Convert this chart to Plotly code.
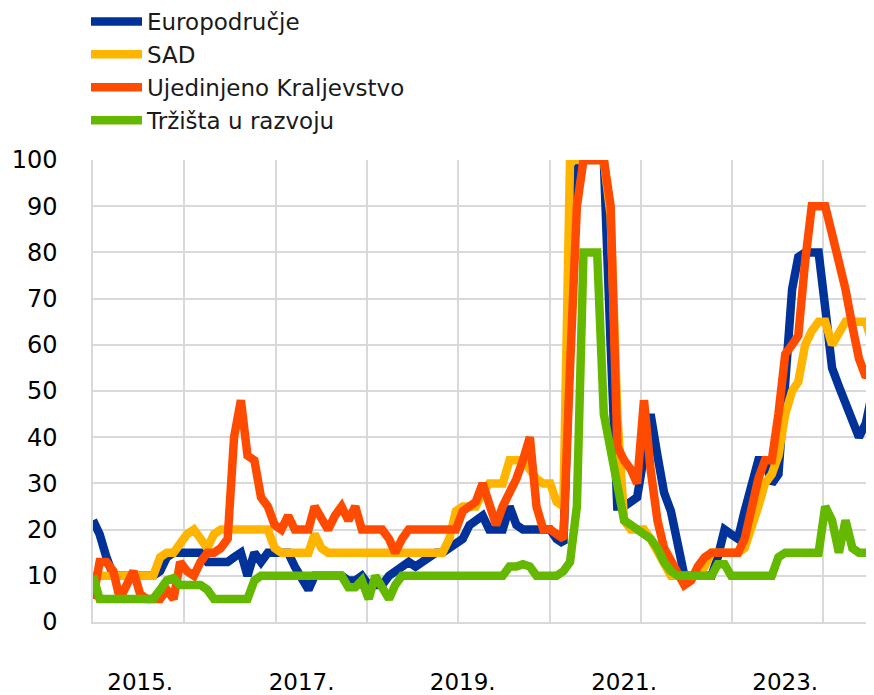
import pandas as pd
import plotly.graph_objects as go

# monthly observations, June 2014 onwards
months = pd.date_range("2014-06-01", periods=117, freq="MS")

euro_area = [22, 19, 14, 10, 10, 10, 10, 10, 10, 10,
             11, 14, 15, 15, 15, 15, 15, 13, 13, 13,
             13, 14, 15, 10, 15, 13, 15, 15, 15, 15,
             12, 9, 7, 10, 10, 10, 10, 10, 9, 9,
             10, 8, 8, 8, 10, 11, 12, 13, 12, 13,
             14, 15, 15, 16, 17, 18, 21, 22, 23, 20,
             20, 20, 25, 21, 20, 20, 20, 20, 20, 18,
             17, 60, 98, 100, 100, 100, 100, 60, 25, 25,
             26, 27, 36, 45, 36, 28, 24, 16, 10, 10,
             10, 10, 10, 14, 20, 19, 18, 24, 30, 35,
             35, 30, 32, 50, 72, 79, 80, 80, 80, 68,
             55, 51, 47, 43, 40, 43, 50]

usa = [10, 10, 10, 10, 10, 10, 10, 10, 10, 10,
       14, 15, 15, 17, 19, 20, 18, 16, 19, 20,
       20, 20, 20, 20, 20, 20, 20, 16, 15, 15,
       15, 15, 15, 19, 16, 15, 15, 15, 15, 15,
       15, 15, 15, 15, 15, 15, 15, 15, 15, 15,
       15, 15, 15, 18, 24, 25, 25, 25, 28, 30,
       30, 30, 35, 35, 35, 33, 31, 30, 30, 26,
       25, 100, 100, 100, 100, 100, 100, 88, 45, 22,
       20, 20, 20, 18, 15, 12, 10, 10, 10, 10,
       10, 12, 15, 15, 15, 15, 15, 16, 20, 25,
       30, 32, 36, 45, 50, 52, 60, 63, 65, 65,
       60, 63, 65, 65, 65, 65, 60]

uk = [5, 13, 13, 11, 5, 8, 11, 6, 5, 5,
      5, 7, 5, 13, 11, 10, 13, 15, 15, 16,
      18, 40, 48, 36, 35, 27, 25, 21, 20, 23,
      20, 20, 20, 25, 22, 20, 23, 25, 22, 25,
      20, 20, 20, 20, 18, 15, 18, 20, 20, 20,
      20, 20, 20, 20, 20, 24, 25, 26, 30, 25,
      21, 25, 28, 31, 35, 40, 25, 20, 20, 19,
      18, 55, 90, 100, 100, 100, 100, 90, 38, 35,
      33, 30, 48, 33, 22, 16, 13, 10, 8, 9,
      12, 14, 15, 15, 15, 15, 15, 18, 25, 31,
      35, 35, 45, 58, 60, 62, 78, 90, 90, 90,
      84, 78, 72, 64, 57, 53, 55]

emerging = [10, 5, 5, 5, 5, 5, 5, 5, 5, 5,
            7, 9, 9.5, 8, 8, 8, 8, 7, 5, 5,
            5, 5, 5, 5, 9, 10, 10, 10, 10, 10,
            10, 10, 10, 10, 10, 10, 10, 10, 7.5, 7.5,
            9, 5, 10, 7, 5, 8, 10, 10, 10, 10,
            10, 10, 10, 10, 10, 10, 10, 10, 10, 10,
            10, 10, 12, 12, 12.5, 12, 10, 10, 10, 10,
            11, 13, 25, 80, 80, 80, 45, 37, 31, 22,
            21, 20, 19, 18, 16, 13, 11, 10, 10, 10,
            10, 10, 10, 12.5, 12.5, 10, 10, 10, 10, 10,
            10, 10, 14, 15, 15, 15, 15, 15, 15, 25,
            22, 15, 22, 16, 15, 15, 15]

series_names = ["Europodručje", "SAD", "Ujedinjeno Kraljevstvo", "Tržišta u razvoju"]
series_colors = ["#003299", "#FFB400", "#FF4B00", "#65B800"]
tick_dates = ["2015-01-01", "2017-01-01", "2019-01-01", "2021-01-01", "2023-01-01"]
tick_labels = ["2015.", "2017.", "2019.", "2021.", "2023."]

for s in (euro_area, usa, uk, emerging):
    assert len(s) == len(months), len(s)

fig = go.Figure()
for name, vals, col in zip(series_names, [euro_area, usa, uk, emerging], series_colors):
    fig.add_trace(go.Scatter(x=months, y=vals, name=name, mode="lines",
                             line=dict(color=col, width=8.5, shape="linear")))

# the page body adds an 8 px offset, so the figure is 8 px smaller on each side
W, H = 866, 687
T, B = 152, 73
plot_h = H - T - B
grid = "#d9d9d9"
day_ms = 86400000
fig.update_layout(
    width=W, height=H,
    margin=dict(l=85, r=0, t=T, b=B, autoexpand=False),
    paper_bgcolor="white", plot_bgcolor="white",
    showlegend=True,
    legend=dict(x=78 / W, xref="container", y=1 + (T + 8) / plot_h, yref="paper",
                xanchor="left", yanchor="top",
                font=dict(family="DejaVu Sans", size=23, color="#1a1a1a"),
                bgcolor="rgba(0,0,0,0)", itemwidth=51, tracegroupgap=0),
    xaxis=dict(
        type="date",
        range=[pd.Timestamp("2014-06-01"), pd.Timestamp("2024-02-07")],
        tickvals=tick_dates, ticktext=tick_labels,
        showgrid=False, ticks="", ticklabelstandoff=39,
        tickfont=dict(family="DejaVu Sans", size=23, color="#000000"),
        showline=True, linecolor=grid, linewidth=1.5,
        minor=dict(tick0="2014-06-01", dtick=413.6 * day_ms, showgrid=True,
                   gridcolor=grid, gridwidth=1.5, ticks=""),
        zeroline=False,
    ),
    yaxis=dict(
        range=[0, 100], dtick=10, tick0=0,
        showgrid=True, gridcolor=grid, gridwidth=1.5,
        ticks="", ticklabelstandoff=29,
        tickfont=dict(family="DejaVu Sans", size=24, color="#000000"),
        showline=True, linecolor=grid, linewidth=1.5,
        zeroline=False,
    ),
)

fig.write_html("out.html")
